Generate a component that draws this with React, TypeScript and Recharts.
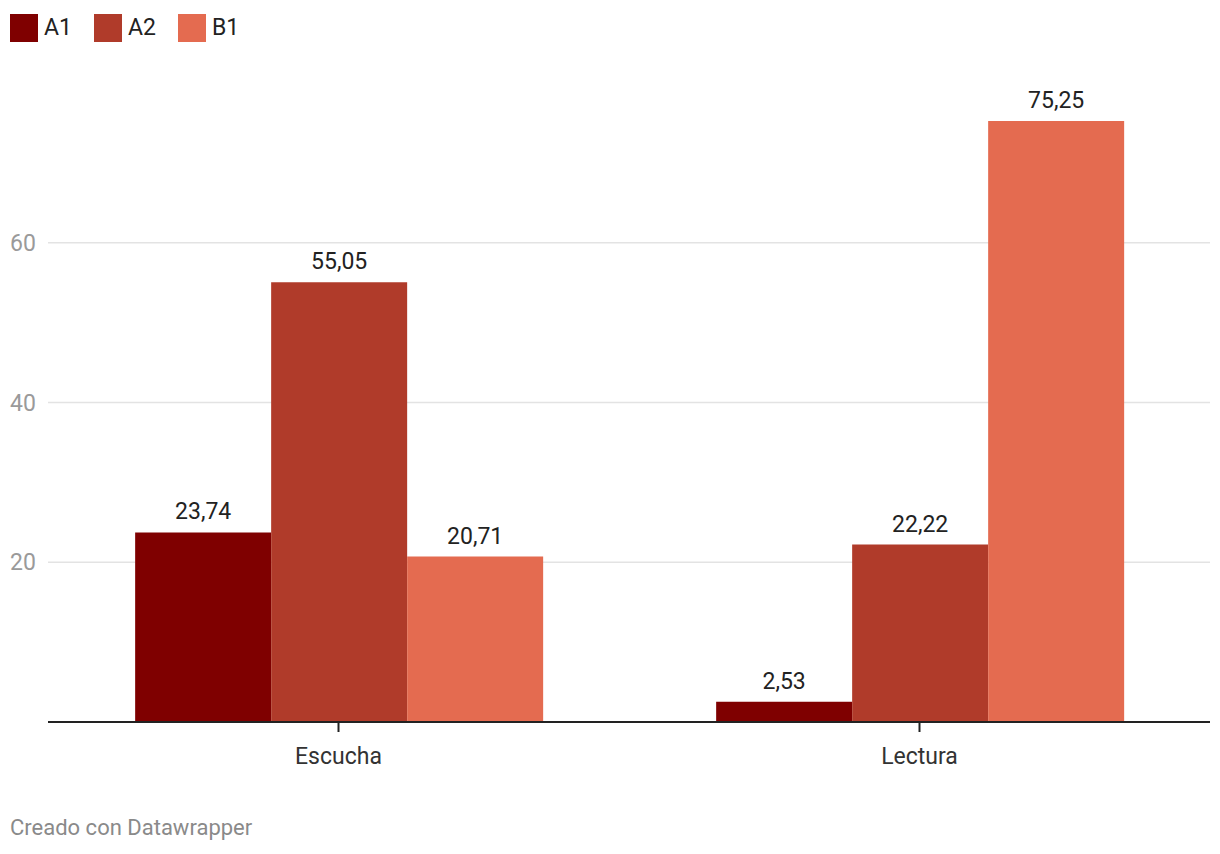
import React from "react";
import { BarChart, Bar, XAxis, YAxis, CartesianGrid, LabelList } from "recharts";

const categories = ["Escucha", "Lectura"];
const a1Values = [23.74, 2.53];
const a2Values = [55.05, 22.22];
const b1Values = [20.71, 75.25];
const yTicks = [20, 40, 60];

const seriesNames = ["A1", "A2", "B1"];
const seriesColors = ["#7f0000", "#b03b2a", "#e46b50"];

const data = categories.map((name, i) => ({
  name,
  A1: a1Values[i],
  A2: a2Values[i],
  B1: b1Values[i],
}));

const font = "Roboto, 'Noto Sans', sans-serif";

const fmt = (v: any) => Number(v).toFixed(2).replace(".", ",");

const YTick = (props: any) => {
  const { y, payload } = props;
  return (
    <text x={10} y={y} dy={8} fill="#9a9a9a" fontSize={23} fontFamily={font} textAnchor="start">
      {payload.value}
    </text>
  );
};

const XTick = (props: any) => {
  const { x, y, payload } = props;
  return (
    <text x={x} y={y + 22} dy={8} fill="#333" fontSize={23} fontFamily={font} textAnchor="middle">
      {payload.value}
    </text>
  );
};

export default function App() {
  return (
    <div
      style={{
        position: "absolute",
        left: 0,
        top: 0,
        width: 1220,
        height: 854,
        background: "#fff",
        fontFamily: font,
      }}
    >
      <div style={{ position: "absolute", left: 10, top: 14, display: "flex", alignItems: "center" }}>
        {seriesNames.map((s, i) => (
          <div key={s} style={{ display: "flex", alignItems: "center", marginRight: 22 }}>
            <div style={{ width: 28, height: 28, background: seriesColors[i] }} />
            <span style={{ marginLeft: 6, fontSize: 23, color: "#222", lineHeight: "28px" }}>{s}</span>
          </div>
        ))}
      </div>
      <BarChart
        width={1220}
        height={854}
        data={data}
        margin={{ top: 83, right: 10, bottom: 72, left: 0 }}
        barCategoryGap="15%"
        barGap={0}
        style={{ position: "absolute", left: 0, top: 0 }}
      >
        <CartesianGrid vertical={false} horizontalValues={yTicks} stroke="#e3e3e3" strokeWidth={1.5} />
        <YAxis
          width={48}
          domain={[0, 80]}
          ticks={yTicks}
          axisLine={false}
          tickLine={false}
          tick={<YTick />}
        />
        <XAxis
          dataKey="name"
          height={60}
          axisLine={{ stroke: "#222", strokeWidth: 2 }}
          tickLine={{ stroke: "#222", strokeWidth: 2 }}
          tickSize={10}
          tick={<XTick />}
        />
        {seriesNames.map((s, i) => (
          <Bar key={s} dataKey={s} fill={seriesColors[i]} isAnimationActive={false}>
            <LabelList
              dataKey={s}
              position="top"
              offset={13}
              formatter={fmt}
              fill="#222"
              fontSize={23}
              fontFamily={font}
            />
          </Bar>
        ))}
      </BarChart>
      <div style={{ position: "absolute", left: 10, top: 815, fontSize: 22, color: "#8a8a8a" }}>
        Creado con Datawrapper
      </div>
    </div>
  );
}
